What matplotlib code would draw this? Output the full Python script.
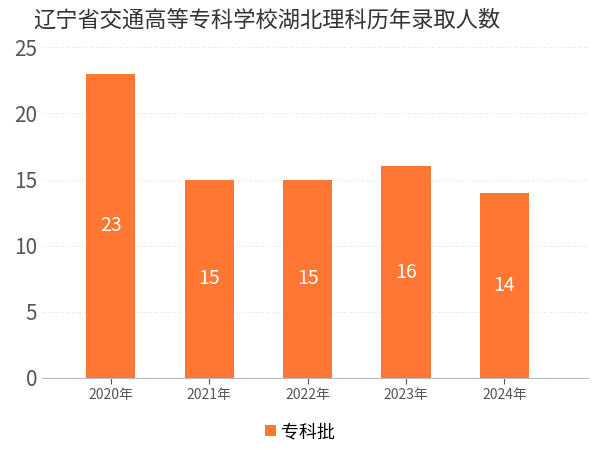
import matplotlib
matplotlib.use("Agg")
import matplotlib.pyplot as plt
from matplotlib import font_manager

years = ["2020年", "2021年", "2022年", "2023年", "2024年"]
counts = [23, 15, 15, 16, 14]
series_name = "专科批"
title = "辽宁省交通高等专科学校湖北理科历年录取人数"

# find an installed CJK font
cjk = [f.name for f in font_manager.fontManager.ttflist if "CJK" in f.name]
plt.rcParams["font.family"] = sorted(set(cjk), key=lambda n: "SC" not in n) + ["DejaVu Sans"]

fig = plt.figure(figsize=(6, 4.5), dpi=100)
ax = fig.add_axes([0.07, 0.16, 0.91, 0.735])
color = "#ff7733"
bars = ax.bar(years, counts, width=0.5, color=color, label=series_name)
for b, v in zip(bars, counts):
    ax.text(b.get_x() + b.get_width() / 2, v / 2, str(v), ha="center", va="center",
            color="white", fontsize=14)
ax.set_ylim(0, 25)
ax.set_yticks([0, 5, 10, 15, 20, 25])
ax.tick_params(axis="y", labelsize=15, length=0, colors="#555555")
ax.tick_params(axis="x", labelsize=10, colors="#555555", length=4)
ax.grid(axis="y", color="#eeeeee", linestyle="--", linewidth=0.8)
ax.set_axisbelow(True)
for s in ["top", "right", "left"]:
    ax.spines[s].set_visible(False)
ax.spines["bottom"].set_color("#bbbbbb")
ax.set_xlim(-0.7, 4.85)
fig.text(0.055, 0.955, title, fontsize=16, color="#333333", va="center")
fig.legend(handles=[bars], labels=[series_name], loc="center", bbox_to_anchor=(0.5, 0.04),
           frameon=False, fontsize=13, handlelength=0.6, handleheight=0.6, handletextpad=0.3)
fig.savefig("out.png")
